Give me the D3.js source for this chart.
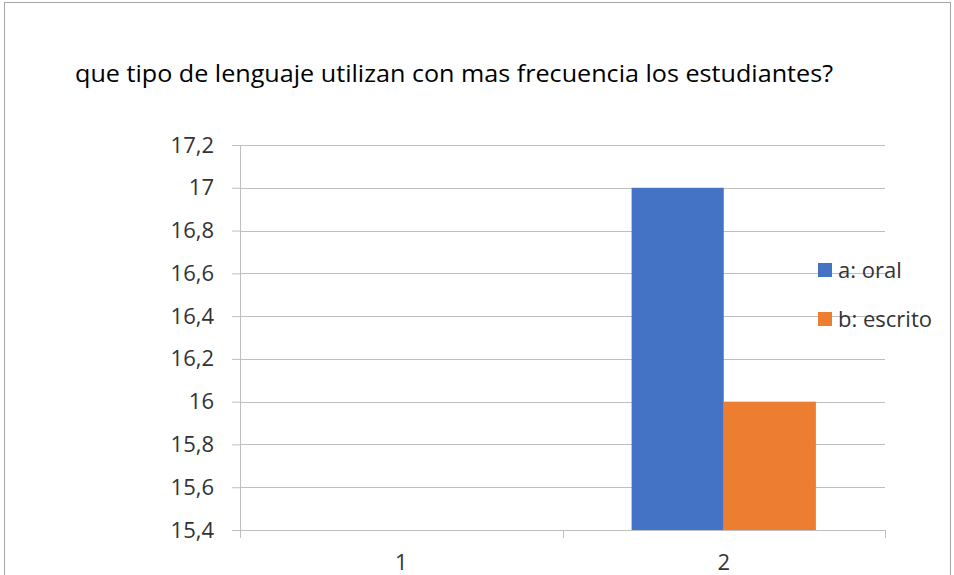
<!DOCTYPE html>
<html>
<head>
<meta charset="utf-8">
<script src="https://cdn.jsdelivr.net/npm/d3@7"></script>
<style>
  body { margin: 0; background: #fff; }
  text { font-family: "Open Sans", "Liberation Sans", sans-serif; fill: #333; }
</style>
</head>
<body>
<svg id="chart" width="954" height="575"></svg>
<script>
// chart data
var categories = ["1", "2"];
var seriesNames = ["a: oral", "b: escrito"];
var oral = [null, 17];
var escrito = [null, 16];
var yTicks = [15.4, 15.6, 15.8, 16, 16.2, 16.4, 16.6, 16.8, 17, 17.2];

var colors = d3.scaleOrdinal()
    .domain(seriesNames)
    .range(["#4472C4", "#ED7D31"]);

var svg = d3.select("#chart"),
    width = +svg.attr("width"),
    height = +svg.attr("height");

var margin = {left: 240, right: 69, top: 145, bottom: 45};
var plotW = width - margin.left - margin.right,
    plotH = height - margin.top - margin.bottom;

// outer frame of the chart
svg.append("rect")
    .attr("x", 4.5).attr("y", 2.5)
    .attr("width", 946).attr("height", 600)
    .attr("fill", "none")
    .attr("stroke", "#a6a6a6");

svg.append("text")
    .attr("x", 75).attr("y", 82)
    .attr("textLength", 758)
    .attr("lengthAdjust", "spacingAndGlyphs")
    .style("font-size", "23px")
    .style("fill", "#000")
    .text("que tipo de lenguaje utilizan con mas frecuencia los estudiantes?");

var g = svg.append("g").attr("transform", "translate(" + margin.left + "," + margin.top + ")");

var x = d3.scaleBand().domain(categories).range([0, plotW]);
var xInner = d3.scaleBand().domain(seriesNames)
    .range([0, x.bandwidth()])
    .paddingInner(0)
    .paddingOuter(0.75);
var y = d3.scaleLinear().domain([15.4, 17.2]).range([plotH, 0]);

var fmt = function(d) { return d3.format("~g")(d).replace(".", ","); };

// gridlines
g.append("g")
    .selectAll("line")
    .data(yTicks)
    .enter().append("line")
    .attr("x1", 0).attr("x2", plotW)
    .attr("y1", function(d) { return Math.round(y(d)) + 0.5; })
    .attr("y2", function(d) { return Math.round(y(d)) + 0.5; })
    .attr("stroke", "#bfbfbf");

// bars
var rows = categories.map(function(c, i) { return {cat: c, vals: [oral[i], escrito[i]]}; });
g.append("g")
    .selectAll("g")
    .data(rows)
    .enter().append("g")
    .attr("transform", function(d) { return "translate(" + x(d.cat) + ",0)"; })
    .selectAll("rect")
    .data(function(d) {
        return d.vals.map(function(v, j) { return {name: seriesNames[j], v: v}; })
            .filter(function(e) { return e.v != null && e.v > y.domain()[0]; });
    })
    .enter().append("rect")
    .attr("x", function(d) { return xInner(d.name); })
    .attr("width", xInner.bandwidth())
    .attr("y", function(d) { return y(Math.min(d.v, 17.2)); })
    .attr("height", function(d) { return plotH - y(Math.min(d.v, 17.2)); })
    .attr("fill", function(d) { return colors(d.name); });

// y axis
var yAxis = g.append("g")
    .call(d3.axisLeft(y).tickValues(yTicks).tickFormat(fmt).tickSize(8).tickPadding(18));
yAxis.select(".domain").attr("stroke", "#bfbfbf");
yAxis.selectAll(".tick line").attr("stroke", "#bfbfbf");
yAxis.selectAll("text").style("font-size", "22px").style("font-family", "'Open Sans', sans-serif").attr("fill", "#333");

// x axis
var xAxis = g.append("g")
    .attr("transform", "translate(0," + plotH + ")")
    .call(d3.axisBottom(x).tickSize(0).tickPadding(24));
xAxis.select(".domain").attr("stroke", "#bfbfbf");
xAxis.selectAll("text").style("font-size", "22px").style("font-family", "'Open Sans', sans-serif").attr("fill", "#333");
// category separators
xAxis.selectAll(".sep")
    .data([0].concat(categories.map(function(c) { return x(c) + x.bandwidth(); })))
    .enter().append("line")
    .attr("x1", function(d) { return Math.round(d) + 0.5; })
    .attr("x2", function(d) { return Math.round(d) + 0.5; })
    .attr("y1", 0).attr("y2", 8)
    .attr("stroke", "#bfbfbf");

// legend
var legend = svg.append("g").attr("transform", "translate(818,263)");
var item = legend.selectAll("g")
    .data(seriesNames)
    .enter().append("g")
    .attr("transform", function(d, i) { return "translate(0," + (i * 49) + ")"; });
item.append("rect")
    .attr("width", 14).attr("height", 14)
    .attr("fill", function(d) { return colors(d); });
item.append("text")
    .attr("x", 20).attr("y", 15)
    .style("font-size", "22px")
    .text(function(d) { return d; });
</script>
</body>
</html>
